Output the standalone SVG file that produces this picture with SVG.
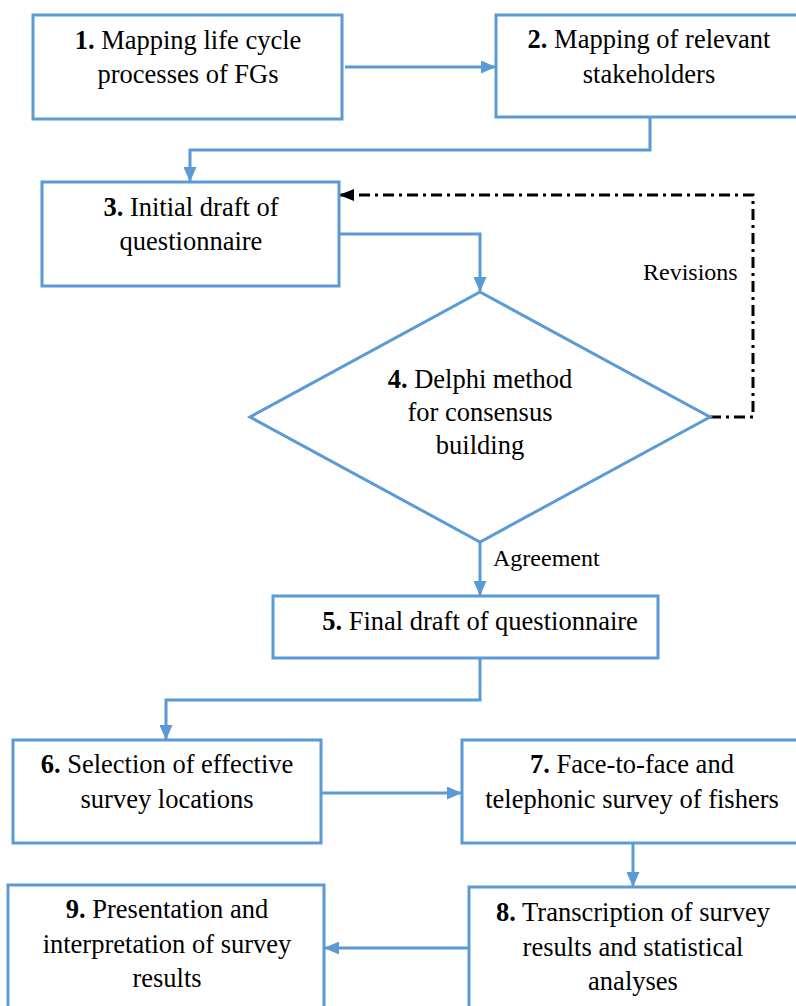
<svg xmlns="http://www.w3.org/2000/svg" width="796" height="1006" viewBox="0 0 796 1006">
  <style>
    .box { fill: #ffffff; stroke: #5B9BD5; stroke-width: 3; }
    .conn { fill: none; stroke: #5B9BD5; stroke-width: 3; }
    .dash { fill: none; stroke: #000000; stroke-width: 3; stroke-dasharray: 11 5 3 5; }
    .t { font-family: "Liberation Serif", "Times New Roman", serif; font-size: 26.5px; fill: #000000; text-anchor: middle; }
    .lbl { font-family: "Liberation Serif", "Times New Roman", serif; font-size: 24px; fill: #000000; }
    .b { font-weight: bold; }
  </style>
  <defs>
    <marker id="ab" markerUnits="userSpaceOnUse" markerWidth="15" markerHeight="13" refX="14" refY="6.5" orient="auto">
      <path d="M0,0 L15,6.5 L0,13 z" fill="#5B9BD5"/>
    </marker>
    <marker id="ak" markerUnits="userSpaceOnUse" markerWidth="15" markerHeight="12" refX="14" refY="6" orient="auto">
      <path d="M0,0 L15,6 L0,12 z" fill="#000000"/>
    </marker>
  </defs>
  <rect width="796" height="1006" fill="#ffffff"/>

  <g id="connectors">
    <path class="conn" d="M345,67 H495" marker-end="url(#ab)"/>
    <path class="conn" d="M650,117 V150 H190 V181" marker-end="url(#ab)"/>
    <path class="conn" d="M339,234 H480 V291" marker-end="url(#ab)"/>
    <path class="conn" d="M480,542 V595" marker-end="url(#ab)"/>
    <path class="conn" d="M480,658 V700 H166 V739" marker-end="url(#ab)"/>
    <path class="conn" d="M321,793 H461" marker-end="url(#ab)"/>
    <path class="conn" d="M633,843 V886" marker-end="url(#ab)"/>
    <path class="conn" d="M469,948 H325" marker-end="url(#ab)"/>
    <path class="dash" d="M710,417 H753 V195 H340" marker-end="url(#ak)"/>
    <text class="lbl" x="643" y="280">Revisions</text>
    <text class="lbl" x="493" y="566">Agreement</text>
  </g>

  <g id="node1">
    <rect class="box" x="33" y="15" width="309" height="104"/>
    <text class="t" x="188" y="49"><tspan class="b">1.</tspan> Mapping life cycle</text>
    <text class="t" x="188" y="83">processes of FGs</text>
  </g>
  <g id="node2">
    <rect class="box" x="496" y="15" width="310" height="102"/>
    <text class="t" x="649" y="48"><tspan class="b">2.</tspan> Mapping of relevant</text>
    <text class="t" x="649" y="83">stakeholders</text>
  </g>
  <g id="node3">
    <rect class="box" x="42" y="182" width="297" height="104"/>
    <text class="t" x="191" y="216"><tspan class="b">3.</tspan> Initial draft of</text>
    <text class="t" x="191" y="250">questionnaire</text>
  </g>
  <g id="node4">
    <polygon class="box" points="480,292 710,417 480,542 250,417"/>
    <text class="t" x="480" y="388"><tspan class="b">4.</tspan> Delphi method</text>
    <text class="t" x="480" y="421">for consensus</text>
    <text class="t" x="480" y="454">building</text>
  </g>
  <g id="node5">
    <rect class="box" x="273" y="596" width="385" height="62"/>
    <text class="t" x="480" y="630"><tspan class="b">5.</tspan> Final draft of questionnaire</text>
  </g>
  <g id="node6">
    <rect class="box" x="13" y="740" width="308" height="103"/>
    <text class="t" x="167" y="773"><tspan class="b">6.</tspan> Selection of effective</text>
    <text class="t" x="167" y="808">survey locations</text>
  </g>
  <g id="node7">
    <rect class="box" x="462" y="740" width="344" height="103"/>
    <text class="t" x="632" y="773"><tspan class="b">7.</tspan> Face-to-face and</text>
    <text class="t" x="632" y="808">telephonic survey of fishers</text>
  </g>
  <g id="node8">
    <rect class="box" x="469" y="887" width="337" height="130"/>
    <text class="t" x="633" y="921"><tspan class="b">8.</tspan> Transcription of survey</text>
    <text class="t" x="633" y="956">results and statistical</text>
    <text class="t" x="633" y="990">analyses</text>
  </g>
  <g id="node9">
    <rect class="box" x="8" y="885" width="316" height="132"/>
    <text class="t" x="167" y="918"><tspan class="b">9.</tspan> Presentation and</text>
    <text class="t" x="167" y="953">interpretation of survey</text>
    <text class="t" x="167" y="987">results</text>
  </g>
</svg>
